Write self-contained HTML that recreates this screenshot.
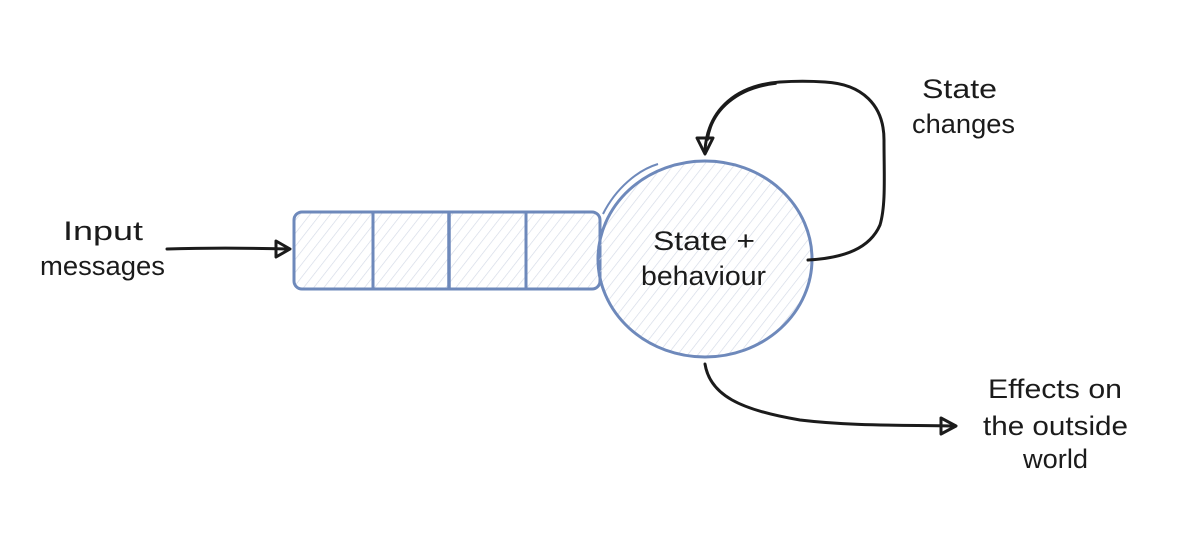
<!DOCTYPE html>
<html>
<head>
<meta charset="utf-8">
<style>
  html, body { margin:0; padding:0; background:#ffffff; }
  body { width:1200px; height:549px; overflow:hidden; }
  svg { display:block; }
  text { font-family: "Liberation Sans", "DejaVu Sans", sans-serif; fill:#1b1b1b; font-size:27px; }
</style>
</head>
<body>
<svg width="1200" height="549" viewBox="0 0 1200 549" xmlns="http://www.w3.org/2000/svg">
  <defs>
    <pattern id="hatch" patternUnits="userSpaceOnUse" width="8" height="8" patternTransform="rotate(38)">
      <line x1="0" y1="0" x2="0" y2="8" stroke="#d3d9e6" stroke-width="1.3"/>
    </pattern>
  </defs>

  <!-- Queue rectangle -->
  <rect x="294" y="212" width="306" height="77" rx="8" ry="8" fill="url(#hatch)" stroke="#6e89bb" stroke-width="3"/>
  <line x1="373" y1="212" x2="373" y2="289" stroke="#6e89bb" stroke-width="3"/>
  <line x1="449" y1="211" x2="449" y2="289" stroke="#6e89bb" stroke-width="3.5"/>
  <line x1="526" y1="212" x2="526" y2="289" stroke="#6e89bb" stroke-width="3"/>

  <!-- Circle -->
  <ellipse cx="705" cy="259" rx="107" ry="98" fill="url(#hatch)" stroke="#6e89bb" stroke-width="3"/>
  <path d="M658 164 C 638 170, 616 188, 603 214" fill="none" stroke="#6e89bb" stroke-width="2"/>

  <!-- Input arrow -->
  <path d="M167 249 C 200 248, 250 248, 288 249" fill="none" stroke="#1b1b1b" stroke-width="3" stroke-linecap="round"/>
  <path d="M276 241 L 290 249 L 276 257 Z" fill="none" stroke="#1b1b1b" stroke-width="3" stroke-linejoin="round"/>

  <!-- Loop arrow -->
  <path d="M808 260 C 845 258, 870 248, 880 225 C 886 205, 884 175, 884 140 C 884 105, 862 84, 825 82 C 810 81, 795 81, 780 82 C 738 85, 708 108, 705 150" fill="none" stroke="#1b1b1b" stroke-width="3" stroke-linecap="round"/>
  <path d="M776 84 C 738 88, 712 110, 708 140" fill="none" stroke="#1b1b1b" stroke-width="1.6" stroke-linecap="round"/>
  <path d="M697 138 L 705 154 L 713 138 Z" fill="none" stroke="#1b1b1b" stroke-width="3" stroke-linejoin="round"/>

  <!-- Effects arrow -->
  <path d="M705 364 C 710 395, 740 410, 800 420 C 850 426, 900 425, 952 426" fill="none" stroke="#1b1b1b" stroke-width="3" stroke-linecap="round"/>
  <path d="M941 418 L 956 426 L 941 434 Z" fill="none" stroke="#1b1b1b" stroke-width="3" stroke-linejoin="round"/>

  <!-- Labels -->
  <text x="63" y="240" textLength="80" lengthAdjust="spacingAndGlyphs">Input</text>
  <text x="40" y="275" textLength="125" lengthAdjust="spacingAndGlyphs">messages</text>

  <text x="653" y="250" textLength="102" lengthAdjust="spacingAndGlyphs">State +</text>
  <text x="641" y="285" textLength="125" lengthAdjust="spacingAndGlyphs">behaviour</text>

  <text x="922" y="98" textLength="75" lengthAdjust="spacingAndGlyphs">State</text>
  <text x="912" y="133" textLength="103" lengthAdjust="spacingAndGlyphs">changes</text>

  <text x="988" y="398" textLength="134" lengthAdjust="spacingAndGlyphs">Effects on</text>
  <text x="983" y="435" textLength="145" lengthAdjust="spacingAndGlyphs">the outside</text>
  <text x="1023" y="468" textLength="65" lengthAdjust="spacingAndGlyphs">world</text>
</svg>
</body>
</html>
